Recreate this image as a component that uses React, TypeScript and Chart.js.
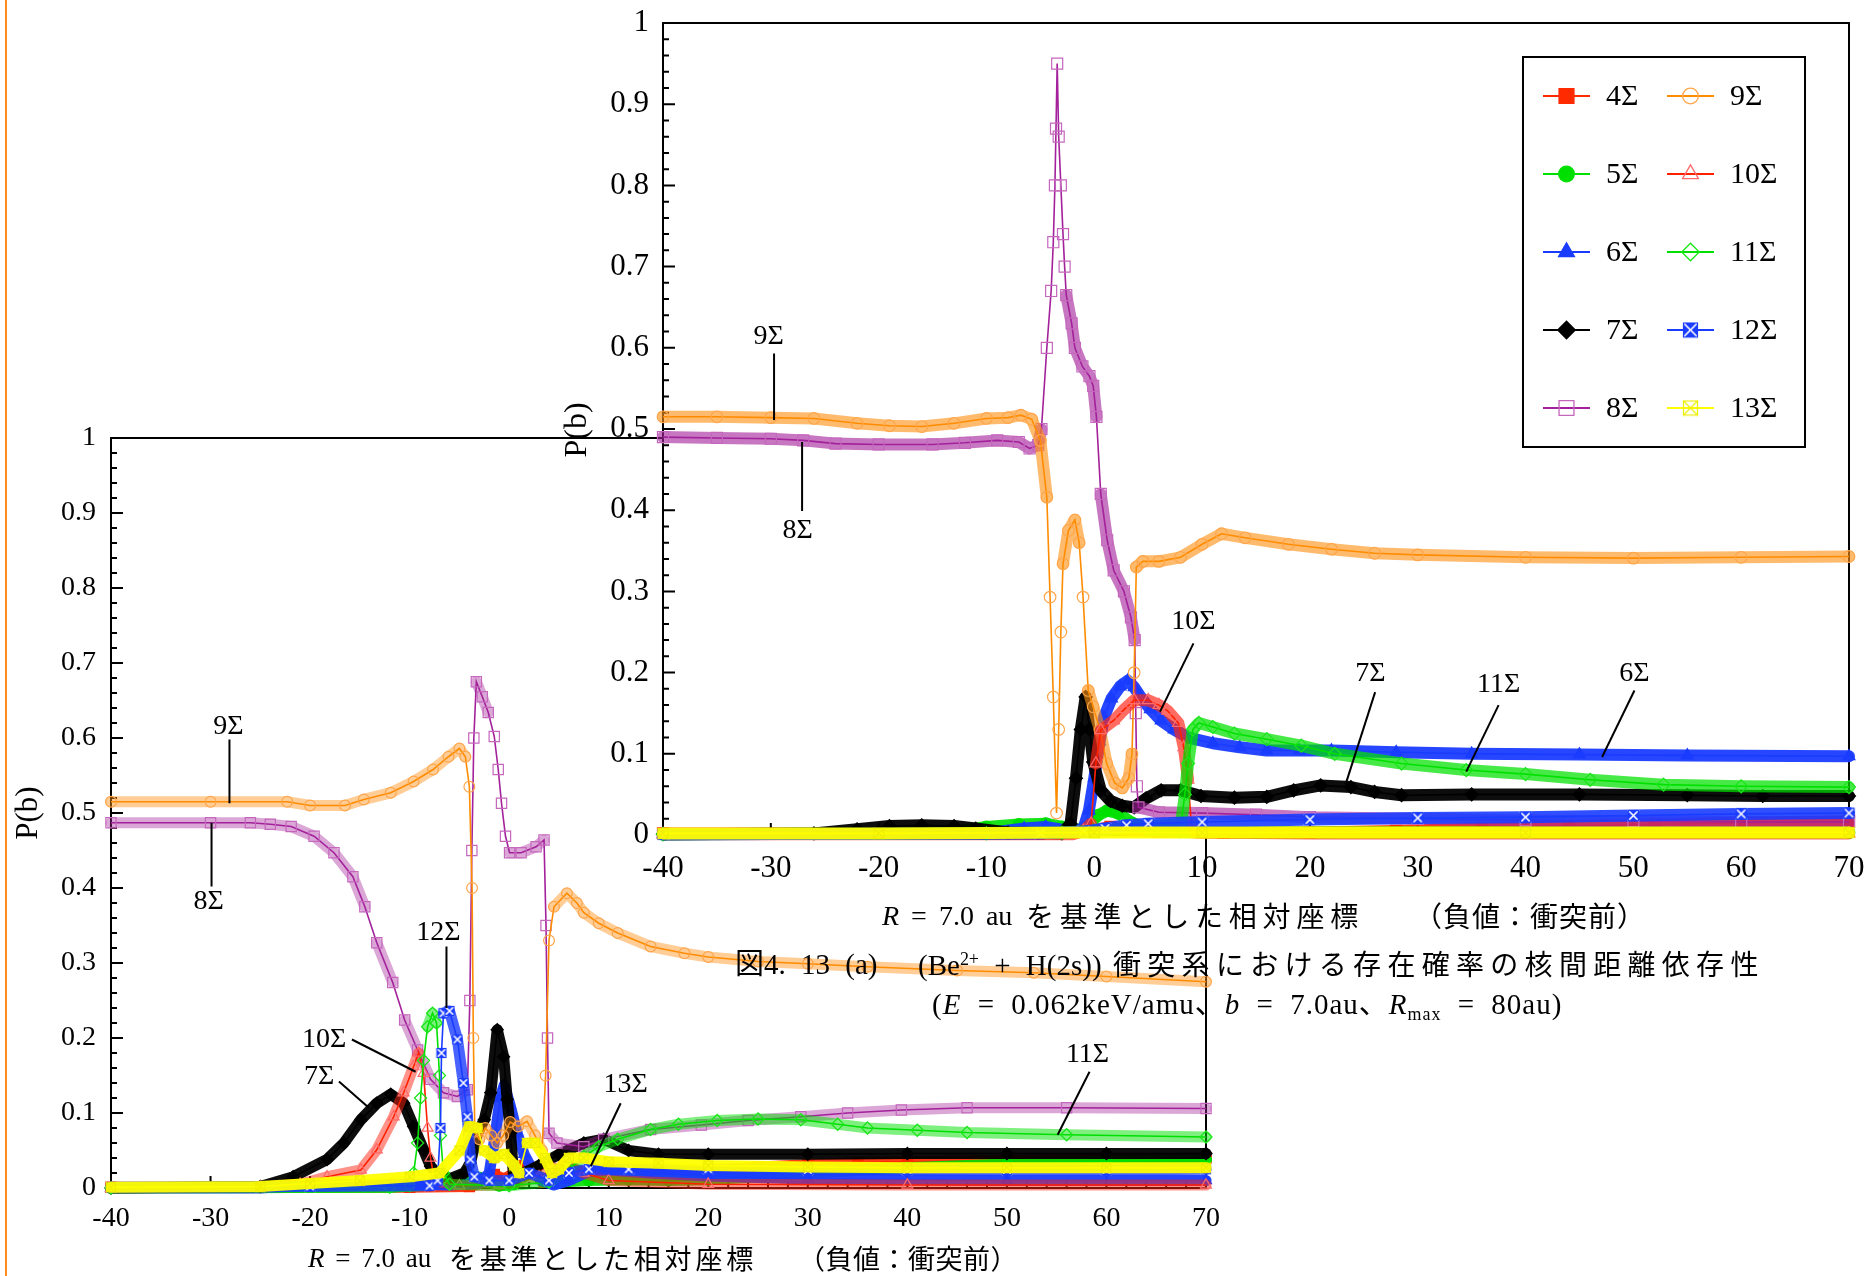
import { useEffect, useRef } from 'react';
import { Chart, registerables } from 'chart.js';
import { drawPoint } from 'chart.js/helpers';

Chart.register(...registerables);

type Pt = [number, number];
type Note = { text: string; tx: number; ty: number; x1: number; y1: number; x2: number; y2: number };

const SERIES = ['4Σ', '5Σ', '6Σ', '7Σ', '8Σ', '9Σ', '10Σ', '11Σ', '12Σ', '13Σ'];
const R_TICKS = [-40, -30, -20, -10, 0, 10, 20, 30, 40, 50, 60, 70];
const P_TICKS = [0, 0.1, 0.2, 0.3, 0.4, 0.5, 0.6, 0.7, 0.8, 0.9, 1];

// ---------- upper-right panel: P(b) vs relative R ----------
const A4: Pt[] = [[-40, 0.002], [-20, 0.002], [-5, 0.002], [-2, 0.003], [0, 0.006], [1.5, 0.01], [3, 0.007], [6, 0.004], [12, 0.003], [20, 0.003], [28, 0.005], [36, 0.008], [44, 0.011], [52, 0.013], [60, 0.015], [70, 0.017]];
const A5: Pt[] = [[-40, 0.001], [-20, 0.002], [-13, 0.004], [-10, 0.01], [-7, 0.013], [-4.5, 0.014], [-3, 0.01], [-1.5, 0.006], [-0.5, 0.012], [0.3, 0.024], [1.2, 0.03], [2.2, 0.027], [3.5, 0.015], [5, 0.007], [8, 0.004], [15, 0.003], [40, 0.003], [70, 0.003]];
const A6: Pt[] = [[-40, 0.001], [-10, 0.002], [-6.5, 0.008], [-4.5, 0.01], [-2, 0.004], [-1, 0.008], [-0.5, 0.03], [0, 0.07], [0.5, 0.115], [0.9, 0.145], [1.6, 0.168], [2.4, 0.183], [3.1, 0.19], [3.7, 0.182], [4.3, 0.17], [5.2, 0.155], [6.2, 0.141], [7.4, 0.13], [8.7, 0.12], [11, 0.113], [13.5, 0.108], [16, 0.104], [19, 0.104], [22, 0.104], [28, 0.102], [35, 0.1], [45, 0.099], [55, 0.098], [70, 0.097]];
const A7: Pt[] = [[-40, 0.001], [-26, 0.002], [-22, 0.007], [-19, 0.011], [-16, 0.012], [-13, 0.011], [-11, 0.008], [-8, 0.003], [-3, 0.002], [-2.2, 0.014], [-1.7, 0.07], [-1.25, 0.13], [-0.8, 0.17], [-0.45, 0.13], [-0.1, 0.09], [0.6, 0.055], [1.5, 0.042], [2.6, 0.036], [3.7, 0.034], [4.8, 0.045], [6.2, 0.055], [8, 0.055], [9.9, 0.048], [13, 0.046], [16, 0.047], [18.5, 0.055], [21, 0.061], [23.8, 0.059], [26, 0.053], [28.5, 0.049], [35, 0.05], [45, 0.05], [55, 0.049], [62, 0.048], [70, 0.048]];
const A8: Pt[] = [[-40, 0.49], [-35, 0.489], [-30, 0.488], [-27, 0.486], [-24, 0.482], [-20, 0.481], [-15, 0.481], [-12, 0.483], [-9, 0.486], [-7, 0.484], [-6, 0.476], [-5.2, 0.48], [-4.9, 0.5], [-4.4, 0.6], [-4.0, 0.67], [-3.8, 0.73], [-3.65, 0.8], [-3.55, 0.87], [-3.44, 0.95], [-3.3, 0.86], [-3.1, 0.8], [-2.9, 0.74], [-2.75, 0.7], [-2.6, 0.665], [-2.1, 0.63], [-1.8, 0.6], [-1.1, 0.577], [-0.45, 0.565], [-0.1, 0.553], [0.2, 0.515], [0.6, 0.42], [1.2, 0.363], [1.8, 0.326], [2.75, 0.3], [3.4, 0.268], [3.75, 0.24], [3.85, 0.15], [3.95, 0.06], [4.1, 0.034], [6, 0.028], [10, 0.027], [15, 0.025], [20, 0.022], [30, 0.02], [40, 0.018], [50, 0.017], [60, 0.016], [70, 0.016]];
const A9: Pt[] = [[-40, 0.515], [-35, 0.515], [-30, 0.514], [-26, 0.513], [-22, 0.507], [-19, 0.504], [-16, 0.503], [-13, 0.507], [-10, 0.513], [-8, 0.514], [-6.8, 0.517], [-5.8, 0.512], [-5.0, 0.486], [-4.4, 0.416], [-4.1, 0.293], [-3.8, 0.17], [-3.5, 0.027], [-3.3, 0.13], [-3.1, 0.25], [-2.9, 0.334], [-2.4, 0.375], [-1.8, 0.388], [-1.4, 0.36], [-1.04, 0.293], [-0.56, 0.178], [-0.1, 0.158], [0.53, 0.129], [1.15, 0.088], [1.9, 0.064], [2.6, 0.058], [3.2, 0.07], [3.5, 0.1], [3.7, 0.2], [3.9, 0.33], [4.5, 0.337], [6, 0.337], [8, 0.342], [10, 0.358], [11.8, 0.371], [14, 0.366], [18, 0.358], [22, 0.352], [26, 0.347], [30, 0.345], [40, 0.342], [50, 0.341], [60, 0.342], [70, 0.343]];
const A10: Pt[] = [[-40, 0.001], [-2, 0.001], [-1, 0.005], [-0.3, 0.014], [0.15, 0.088], [0.6, 0.129], [1.8, 0.141], [2.8, 0.155], [3.7, 0.166], [5.0, 0.166], [6.0, 0.16], [6.8, 0.153], [7.8, 0.138], [8.3, 0.108], [8.7, 0.068], [9.0, 0.014], [9.5, 0.003], [20, 0.002], [70, 0.002]];
const A11: Pt[] = [[-40, 0.001], [-10, 0.002], [-3, 0.003], [0, 0.005], [4, 0.01], [7, 0.012], [8.05, 0.014], [8.4, 0.05], [8.7, 0.088], [9.15, 0.13], [9.7, 0.138], [11, 0.133], [13, 0.125], [16, 0.118], [19.2, 0.11], [22.3, 0.1], [28.5, 0.088], [34.5, 0.08], [40, 0.075], [46, 0.068], [52.8, 0.062], [60, 0.06], [70, 0.059]];
const A12: Pt[] = [[-40, 0.001], [-5, 0.002], [-1, 0.004], [1, 0.008], [3, 0.012], [5, 0.014], [10, 0.016], [20, 0.019], [30, 0.021], [40, 0.022], [50, 0.024], [60, 0.026], [70, 0.027]];
const A13: Pt[] = [[-40, 0.002], [-20, 0.002], [0, 0.003], [10, 0.003], [40, 0.003], [70, 0.003]];

const A_NOTES: Note[] = [
  { text: '9Σ', tx: -30.2, ty: 0.614, x1: -29.7, y1: 0.593, x2: -29.7, y2: 0.511 },
  { text: '8Σ', tx: -27.5, ty: 0.375, x1: -27.1, y1: 0.484, x2: -27.1, y2: 0.399 },
  { text: '10Σ', tx: 9.2, ty: 0.263, x1: 9.2, y1: 0.236, x2: 6.1, y2: 0.152 },
  { text: '7Σ', tx: 25.6, ty: 0.199, x1: 26.05, y1: 0.176, x2: 23.3, y2: 0.062 },
  { text: '11Σ', tx: 37.5, ty: 0.185, x1: 37.5, y1: 0.16, x2: 34.5, y2: 0.078 },
  { text: '6Σ', tx: 50.1, ty: 0.199, x1: 50.1, y1: 0.178, x2: 47.1, y2: 0.096 },
];

// ---------- lower-left panel ----------
const B4: Pt[] = [[-40, 0.001], [-10, 0.001], [-4, 0.002], [-2.5, 0.008], [-1.5, 0.018], [-0.5, 0.012], [0.5, 0.02], [1.5, 0.03], [2.5, 0.02], [3.5, 0.008], [4.5, 0.02], [5.5, 0.03], [7, 0.022], [10, 0.02], [15, 0.02], [20, 0.023], [25, 0.028], [30, 0.031], [35, 0.034], [40, 0.035], [50, 0.037], [60, 0.038], [70, 0.04]];
const B5: Pt[] = [[-40, 0], [-12, 0.001], [-8, 0.004], [-6, 0.012], [-4.5, 0.016], [-3, 0.014], [-2, 0.008], [-1, 0.003], [0.5, 0.005], [1.5, 0.016], [2.5, 0.022], [3.5, 0.01], [5, 0.008], [8, 0.01], [12, 0.011], [16, 0.01], [20, 0.011], [25, 0.015], [30, 0.02], [40, 0.027], [50, 0.032], [60, 0.036], [70, 0.038]];
const B6: Pt[] = [[-40, 0], [-25, 0], [-20, 0.004], [-12, 0.005], [-6, 0.004], [-3, 0.006], [-2, 0.02], [-1.4, 0.07], [-0.9, 0.12], [-0.5, 0.137], [0.1, 0.11], [0.8, 0.073], [1.5, 0.045], [2.3, 0.025], [3.2, 0.01], [4.5, 0.004], [6, 0.01], [8, 0.022], [10, 0.024], [14, 0.02], [20, 0.016], [30, 0.012], [50, 0.01], [70, 0.01]];
const B7: Pt[] = [[-40, 0], [-25, 0.002], [-21.7, 0.015], [-18.3, 0.038], [-16.6, 0.06], [-14.9, 0.091], [-13.3, 0.113], [-11.9, 0.125], [-10.6, 0.113], [-9.6, 0.082], [-8.6, 0.051], [-7.9, 0.029], [-7.3, 0.02], [-6, 0.012], [-4.5, 0.02], [-3.9, 0.033], [-3.2, 0.073], [-2.5, 0.091], [-1.85, 0.127], [-1.2, 0.211], [-0.56, 0.175], [-0.2, 0.118], [0.14, 0.073], [0.47, 0.01], [1.5, 0.02], [3, 0.03], [5, 0.045], [7.5, 0.06], [9.5, 0.065], [12, 0.05], [15, 0.045], [20, 0.045], [30, 0.045], [40, 0.046], [50, 0.046], [60, 0.046], [70, 0.046]];
const B8: Pt[] = [[-40, 0.487], [-30, 0.487], [-26, 0.487], [-24, 0.485], [-21.9, 0.482], [-19.6, 0.469], [-17.6, 0.447], [-15.7, 0.415], [-14.5, 0.375], [-13.3, 0.327], [-11.7, 0.274], [-10.5, 0.224], [-9.2, 0.184], [-7.9, 0.145], [-6.6, 0.127], [-5.2, 0.122], [-4.2, 0.131], [-3.95, 0.25], [-3.75, 0.45], [-3.55, 0.6], [-3.3, 0.675], [-2.7, 0.655], [-2.1, 0.634], [-1.5, 0.602], [-1.1, 0.558], [-0.77, 0.513], [-0.37, 0.469], [0.04, 0.447], [1.2, 0.447], [2.7, 0.455], [3.5, 0.464], [3.7, 0.35], [3.85, 0.2], [4.0, 0.073], [4.8, 0.06], [7.5, 0.055], [9.5, 0.065], [14.2, 0.078], [19.3, 0.084], [24, 0.09], [29.3, 0.095], [34, 0.1], [39.4, 0.104], [46, 0.107], [56, 0.107], [70, 0.106]];
const B9: Pt[] = [[-40, 0.515], [-30, 0.515], [-22.3, 0.515], [-20, 0.51], [-16.5, 0.51], [-14.6, 0.518], [-11.9, 0.527], [-9.6, 0.542], [-7.65, 0.558], [-6.1, 0.575], [-5.0, 0.586], [-4.4, 0.575], [-4.0, 0.535], [-3.73, 0.4], [-3.6, 0.2], [-3.45, 0.075], [-3.0, 0.065], [-2.4, 0.08], [-1.8, 0.07], [-1.2, 0.06], [-0.6, 0.07], [0.1, 0.088], [0.9, 0.082], [1.8, 0.089], [2.6, 0.07], [3.3, 0.05], [3.66, 0.15], [4.0, 0.33], [4.5, 0.375], [5.8, 0.393], [6.8, 0.38], [7.5, 0.367], [9, 0.353], [10.9, 0.34], [14.2, 0.322], [17.6, 0.313], [20, 0.308], [25, 0.302], [30, 0.299], [36, 0.295], [45, 0.29], [52.7, 0.287], [60, 0.282], [70, 0.275]];
const B10: Pt[] = [[-40, 0], [-25, 0.001], [-21, 0.005], [-18.3, 0.015], [-14.9, 0.024], [-13.3, 0.051], [-11.6, 0.095], [-10.6, 0.127], [-9.6, 0.162], [-9.1, 0.18], [-8.6, 0.153], [-8.2, 0.08], [-7.9, 0.04], [-7.5, 0.01], [-5, 0.003], [-1, 0.004], [1, 0.008], [3, 0.015], [4.5, 0.025], [6, 0.03], [7.5, 0.02], [10, 0.01], [20, 0.005], [40, 0.004], [70, 0.004]];
const B11: Pt[] = [[-40, 0], [-12, 0.001], [-10, 0.003], [-9.6, 0.02], [-9.2, 0.06], [-8.9, 0.12], [-8.6, 0.17], [-8.2, 0.215], [-7.7, 0.233], [-7.3, 0.22], [-7.0, 0.15], [-6.9, 0.07], [-6.6, 0.02], [-6, 0.005], [0, 0.003], [4, 0.008], [6, 0.025], [7.5, 0.042], [9, 0.055], [10.9, 0.065], [14.2, 0.078], [17, 0.085], [20.9, 0.09], [25, 0.092], [29.3, 0.091], [33, 0.085], [36, 0.08], [41, 0.077], [46, 0.074], [56, 0.071], [70, 0.068]];
const B12: Pt[] = [[-40, 0.001], [-20, 0.002], [-8, 0.003], [-7.2, 0.01], [-6.9, 0.08], [-6.8, 0.18], [-6.6, 0.233], [-6.0, 0.236], [-5.2, 0.198], [-4.6, 0.14], [-4.2, 0.095], [-3.9, 0.038], [-3.5, 0.015], [-2, 0.01], [0, 0.01], [2, 0.02], [4, 0.01], [6, 0.02], [8, 0.025], [12, 0.025], [20, 0.025], [30, 0.024], [40, 0.024], [50, 0.024], [60, 0.024], [70, 0.025]];
const B13: Pt[] = [[-40, 0.001], [-25, 0.002], [-20, 0.006], [-15, 0.01], [-10, 0.015], [-7, 0.02], [-5, 0.05], [-4, 0.082], [-3.2, 0.08], [-2.5, 0.05], [-1.5, 0.04], [-0.5, 0.045], [0.5, 0.03], [1, 0.02], [1.8, 0.06], [2.6, 0.06], [3.6, 0.04], [4.3, 0.02], [5, 0.025], [6, 0.04], [7.5, 0.04], [10, 0.035], [15, 0.033], [20, 0.03], [30, 0.028], [40, 0.027], [50, 0.027], [60, 0.027], [70, 0.027]];

const B_NOTES: Note[] = [
  { text: '9Σ', tx: -28.2, ty: 0.615, x1: -28.1, y1: 0.598, x2: -28.1, y2: 0.513 },
  { text: '8Σ', tx: -30.2, ty: 0.382, x1: -29.9, y1: 0.487, x2: -29.9, y2: 0.402 },
  { text: '12Σ', tx: -7.1, ty: 0.341, x1: -6.3, y1: 0.322, x2: -6.3, y2: 0.24 },
  { text: '10Σ', tx: -18.6, ty: 0.198, x1: -15.8, y1: 0.198, x2: -9.4, y2: 0.155 },
  { text: '7Σ', tx: -19.1, ty: 0.149, x1: -17.1, y1: 0.142, x2: -14.1, y2: 0.107 },
  { text: '13Σ', tx: 11.7, ty: 0.138, x1: 11.2, y1: 0.113, x2: 8.2, y2: 0.029 },
  { text: '11Σ', tx: 58.1, ty: 0.178, x1: 58.3, y1: 0.155, x2: 55.1, y2: 0.071 },
];

// ---------- series appearance ----------
const LINE = ['#ff2a00', '#00e000', '#1a3cff', '#000000', '#a3219b', '#ff8c00', '#ff2000', '#00e000', '#1a3cff', '#ffff00'];
const EDGE = ['#ff2a00', '#00e000', '#1a3cff', '#000000', '#c567bd', '#ffa54a', '#ff6a6a', '#19e619', '#1a3cff', '#eeee00'];
const SHAPE = ['rect', 'circle', 'triangle', 'rectRot', 'rect', 'circle', 'triangle', 'rectRot', 'xbox', 'xbox'];
const SOLID = [true, true, true, true, false, false, false, false, true, false];
const BAND_RGB = ['255,42,0', '0,224,0', '26,60,255', '0,0,0', '165,35,155', '255,145,20', '255,40,20', '0,225,0', '26,60,255', '255,255,0'];
const BAND_ALPHA_UPPER = [0.9, 0.9, 0.95, 0.95, 0.62, 0.62, 0.68, 0.72, 0.9, 0.95];
const BAND_ALPHA_LOWER = [0.9, 0.9, 0.95, 0.95, 0.4, 0.45, 0.5, 0.5, 0.8, 0.95];

const SERIF = '"Liberation Serif", "Times New Roman", serif';
const JP = '"Noto Sans CJK JP", "Noto Sans CJK SC", sans-serif';

function radiusFor(shape: string, k: number) {
  switch (shape) {
    case 'rect': return 7.8 * k;
    case 'circle': return 5.8 * k;
    case 'triangle': return 6.8 * k;
    case 'rectRot': return 6.5 * k;
    default: return 6 * k;
  }
}

function xBox(size: number, fill: string | null, edge: string, cross: string, crossWidth: number) {
  const s = Math.round(size) + 2;
  const c = document.createElement('canvas');
  c.width = s;
  c.height = s;
  const g = c.getContext('2d')!;
  const a = 1, b = s - 1;
  if (fill) { g.fillStyle = fill; g.fillRect(a, a, b - a, b - a); }
  g.strokeStyle = cross;
  g.lineWidth = crossWidth;
  g.beginPath();
  g.moveTo(a, a); g.lineTo(b, b);
  g.moveTo(b, a); g.lineTo(a, b);
  g.stroke();
  g.strokeStyle = edge;
  g.lineWidth = 1.2;
  g.strokeRect(a + 0.5, a + 0.5, b - a - 1, b - a - 1);
  return c;
}

function makeMarks(size: number) {
  const m: (HTMLCanvasElement | null)[] = SERIES.map(() => null);
  m[8] = xBox(size, '#1a3cff', '#1a3cff', '#ffffff', 1.6);
  m[9] = xBox(size, null, '#eeee00', '#eeee00', 1.2);
  return m;
}

// dense overlapping markers read as a thick band wherever the curve is shallow
const bandPlugin = {
  id: 'markerBand',
  beforeDatasetDraw(chart: any, args: any) {
    const ds = chart.data.datasets[args.index];
    const band = ds.band;
    if (!band) return;
    const pts = args.meta.data;
    const ctx = chart.ctx;
    ctx.save();
    ctx.strokeStyle = band.color;
    ctx.lineWidth = band.width;
    ctx.lineCap = 'round';
    ctx.lineJoin = 'round';
    ctx.beginPath();
    let pen = false;
    for (let i = 1; i < pts.length; i++) {
      const a = pts[i - 1], b = pts[i];
      const dx = Math.abs(b.x - a.x), dy = Math.abs(b.y - a.y);
      if (dy <= dx * band.steep) {
        if (!pen) ctx.moveTo(a.x, a.y);
        ctx.lineTo(b.x, b.y);
        pen = true;
      } else {
        pen = false;
      }
    }
    ctx.stroke();
    ctx.restore();
  },
};

function framePlugin(fillWhite: boolean) {
  return {
    id: 'frame',
    beforeDraw(chart: any) {
      if (!fillWhite) return;
      const { ctx, chartArea: a } = chart;
      ctx.save();
      ctx.fillStyle = '#ffffff';
      ctx.fillRect(a.left, a.top, a.right - a.left, a.bottom - a.top);
      ctx.restore();
    },
    beforeDatasetsDraw(chart: any) {
      const { ctx, chartArea: a, scales } = chart;
      const x = scales.x, y = scales.y;
      ctx.save();
      ctx.strokeStyle = '#000';
      ctx.lineWidth = 2;
      ctx.strokeRect(a.left, a.top, a.right - a.left, a.bottom - a.top);
      ctx.beginPath();
      for (let k = 0; k <= 50; k++) {
        const py = y.getPixelForValue(y.min + k * 0.02);
        const len = k % 5 === 0 ? 12 : 6;
        ctx.moveTo(a.left, py);
        ctx.lineTo(a.left + len, py);
      }
      for (let v = x.min; v <= x.max + 1e-9; v += 2) {
        const px = x.getPixelForValue(v);
        const len = Math.round(v) % 10 === 0 ? 12 : 6;
        ctx.moveTo(px, a.bottom);
        ctx.lineTo(px, a.bottom - len);
      }
      ctx.stroke();
      ctx.restore();
    },
  };
}

function notesPlugin(notes: Note[], size: number) {
  return {
    id: 'notes',
    afterDatasetsDraw(chart: any) {
      const { ctx, scales } = chart;
      const x = scales.x, y = scales.y;
      ctx.save();
      ctx.strokeStyle = '#000';
      ctx.lineWidth = 2;
      ctx.fillStyle = '#000';
      ctx.font = `${size}px ${SERIF}`;
      ctx.textAlign = 'center';
      ctx.textBaseline = 'middle';
      for (const n of notes) {
        ctx.beginPath();
        ctx.moveTo(x.getPixelForValue(n.x1), y.getPixelForValue(n.y1));
        ctx.lineTo(x.getPixelForValue(n.x2), y.getPixelForValue(n.y2));
        ctx.stroke();
        ctx.fillText(n.text, x.getPixelForValue(n.tx), y.getPixelForValue(n.ty));
      }
      ctx.restore();
    },
  };
}

const LG = { x: 983, y: 57, w: 282, h: 390, row0: 96, rowStep: 78, col: [1003, 1127] };

function legendPlugin(marks: (HTMLCanvasElement | null)[]) {
  return {
    id: 'boxLegend',
    afterDraw(chart: any) {
      const ctx = chart.ctx;
      ctx.save();
      ctx.fillStyle = '#fff';
      ctx.fillRect(LG.x, LG.y, LG.w, LG.h);
      ctx.strokeStyle = '#000';
      ctx.lineWidth = 2;
      ctx.strokeRect(LG.x, LG.y, LG.w, LG.h);
      ctx.font = `30px ${SERIF}`;
      ctx.textBaseline = 'middle';
      ctx.textAlign = 'left';
      SERIES.forEach((name, i) => {
        const col = Math.floor(i / 5), row = i % 5;
        const cy = LG.row0 + row * LG.rowStep;
        const x0 = LG.col[col];
        ctx.strokeStyle = LINE[i];
        ctx.lineWidth = 2;
        ctx.beginPath();
        ctx.moveTo(x0, cy);
        ctx.lineTo(x0 + 47, cy);
        ctx.stroke();
        ctx.fillStyle = SOLID[i] ? EDGE[i] : 'rgba(0,0,0,0)';
        ctx.strokeStyle = EDGE[i];
        ctx.lineWidth = 1.3;
        drawPoint(ctx, {
          pointStyle: (SHAPE[i] === 'xbox' ? marks[i] : SHAPE[i]) as any,
          radius: radiusFor(SHAPE[i], 1.35),
          borderWidth: 1.3,
          rotation: 0,
        }, x0 + 23.5, cy);
        ctx.fillStyle = '#000';
        ctx.fillText(name, x0 + 63, cy + 1);
      });
      ctx.restore();
    },
  };
}

type Panel = {
  series: Pt[][];
  notes: Note[];
  k: number;
  alpha: number[];
  steepHollow: number;
  steepSolid: number;
  font: number;
  noteFont: number;
  padding: { left: number; top: number; right: number; bottom: number };
  yWidth: number;
  xHeight: number;
  xPad: number;
  yPad: number;
  fillWhite: boolean;
  legend: boolean;
};

function makeConfig(p: Panel): any {
  const marks = makeMarks(11 * p.k);
  const datasets = p.series.map((pts, i) => ({
    label: SERIES[i],
    data: pts.map(([x, y]) => ({ x, y })),
    showLine: true,
    tension: 0,
    borderColor: LINE[i],
    borderWidth: 1.6,
    pointStyle: SHAPE[i] === 'xbox' ? marks[i] : SHAPE[i],
    pointRadius: radiusFor(SHAPE[i], p.k),
    pointBorderColor: EDGE[i],
    pointBackgroundColor: SOLID[i] ? EDGE[i] : 'rgba(0,0,0,0)',
    pointBorderWidth: 1.2,
    order: p.series.length - i,
    clip: false,
    band: {
      color: `rgba(${BAND_RGB[i]},${p.alpha[i]})`,
      width: 12 * p.k,
      steep: SOLID[i] ? p.steepSolid : p.steepHollow,
    },
  }));
  const plugins: any[] = [bandPlugin, framePlugin(p.fillWhite), notesPlugin(p.notes, p.noteFont)];
  if (p.legend) plugins.push(legendPlugin(makeMarks(15)));
  return {
    type: 'scatter',
    data: { datasets },
    options: {
      responsive: false,
      maintainAspectRatio: false,
      animation: false,
      devicePixelRatio: 1,
      events: [],
      layout: { padding: p.padding },
      plugins: { legend: { display: false }, tooltip: { enabled: false } },
      scales: {
        x: {
          type: 'linear',
          min: R_TICKS[0],
          max: R_TICKS[R_TICKS.length - 1],
          afterBuildTicks: (s: any) => { s.ticks = R_TICKS.map((value) => ({ value })); },
          afterFit: (s: any) => { s.height = p.xHeight; s.paddingLeft = 0; s.paddingRight = 0; },
          grid: { display: false, drawTicks: false },
          border: { display: false },
          ticks: {
            font: { family: SERIF, size: p.font },
            color: '#000',
            padding: p.xPad,
            maxRotation: 0,
            autoSkip: false,
            callback: (v: any) => String(v),
          },
        },
        y: {
          type: 'linear',
          min: P_TICKS[0],
          max: P_TICKS[P_TICKS.length - 1],
          afterBuildTicks: (s: any) => { s.ticks = P_TICKS.map((value) => ({ value })); },
          afterFit: (s: any) => { s.width = p.yWidth; s.paddingTop = 0; s.paddingBottom = 0; },
          grid: { display: false, drawTicks: false },
          border: { display: false },
          ticks: {
            font: { family: SERIF, size: p.font },
            color: '#000',
            padding: p.yPad,
            autoSkip: false,
            callback: (v: any) => String(Math.round(Number(v) * 10) / 10),
          },
        },
      },
    },
    plugins,
  };
}

const CANVAS_A = { left: 540, top: 0, width: 1327, height: 900 };
const CANVAS_B = { left: 0, top: 400, width: 1240, height: 876 };

function Txt(props: { x: number; y: number; size: number; h?: number; align?: 'left' | 'center' | 'right'; family?: string; style?: any; children: any }) {
  const h = props.h ?? Math.round(props.size * 1.3);
  const tx = props.align === 'center' ? '-50%' : props.align === 'right' ? '-100%' : '0';
  return (
    <div
      style={{
        position: 'absolute',
        left: props.x,
        top: props.y - h / 2,
        height: h,
        lineHeight: `${h}px`,
        transform: `translateX(${tx})`,
        whiteSpace: 'nowrap',
        fontSize: props.size,
        fontFamily: props.family ?? SERIF,
        color: '#000',
        ...props.style,
      }}
    >
      {props.children}
    </div>
  );
}

function YTitle(props: { x: number; y: number; size: number }) {
  return (
    <div
      style={{
        position: 'absolute',
        left: props.x,
        top: props.y,
        transform: 'translate(-50%, -50%) rotate(-90deg)',
        fontFamily: SERIF,
        fontSize: props.size,
        lineHeight: 1,
        whiteSpace: 'nowrap',
        color: '#000',
      }}
    >
      P(b)
    </div>
  );
}

const SUP = { fontSize: '0.62em', position: 'relative' as const, top: '-0.55em' };
const SUB = { fontSize: '0.62em', position: 'relative' as const, top: '0.35em' };

export default function App() {
  const refA = useRef<HTMLCanvasElement>(null);
  const refB = useRef<HTMLCanvasElement>(null);

  useEffect(() => {
    Chart.defaults.font.family = SERIF;
    Chart.defaults.color = '#000';
    const chartB = new Chart(refB.current!, makeConfig({
      series: [B4, B5, B6, B7, B8, B9, B10, B11, B12, B13],
      notes: B_NOTES,
      k: 0.93,
      alpha: BAND_ALPHA_LOWER,
      steepHollow: 3,
      steepSolid: 15,
      font: 28,
      noteFont: 28,
      padding: { left: 0, top: 38, right: 34, bottom: 38 },
      yWidth: 111,
      xHeight: 50,
      xPad: 14,
      yPad: 15,
      fillWhite: false,
      legend: false,
    }));
    const chartA = new Chart(refA.current!, makeConfig({
      series: [A4, A5, A6, A7, A8, A9, A10, A11, A12, A13],
      notes: A_NOTES,
      k: 1,
      alpha: BAND_ALPHA_UPPER,
      steepHollow: 10,
      steepSolid: 15,
      font: 31,
      noteFont: 28,
      padding: { left: 0, top: 23, right: 18, bottom: 15 },
      yWidth: 123,
      xHeight: 50,
      xPad: 15,
      yPad: 14,
      fillWhite: true,
      legend: true,
    }));
    return () => {
      chartA.destroy();
      chartB.destroy();
    };
  }, []);

  return (
    <div style={{ position: 'absolute', left: 0, top: 0, width: 1867, height: 1276, overflow: 'hidden', background: '#fff' }}>
      <div style={{ position: 'absolute', left: 5, top: 0, width: 2, height: 1276, background: '#ff8c1a' }} />
      <canvas
        ref={refB}
        width={CANVAS_B.width}
        height={CANVAS_B.height}
        style={{ position: 'absolute', left: CANVAS_B.left, top: CANVAS_B.top, width: CANVAS_B.width, height: CANVAS_B.height, zIndex: 1 }}
      />
      <canvas
        ref={refA}
        width={CANVAS_A.width}
        height={CANVAS_A.height}
        style={{ position: 'absolute', left: CANVAS_A.left, top: CANVAS_A.top, width: CANVAS_A.width, height: CANVAS_A.height, zIndex: 2 }}
      />
      <div style={{ position: 'absolute', left: 0, top: 0, width: 1867, height: 1276, zIndex: 3, pointerEvents: 'none' }}>
        <YTitle x={575} y={430} size={32} />
        <YTitle x={26} y={813} size={31} />

        <Txt x={882} y={916} size={28} style={{ wordSpacing: 5 }}><i>R</i> = 7.0 au</Txt>
        <Txt x={1026} y={915} size={28} family={JP} style={{ letterSpacing: 5.8 }}>を基準とした相対座標</Txt>
        <Txt x={1646} y={915} size={28} align="right" family={JP} style={{ letterSpacing: 1 }}>（負値：衝突前）</Txt>

        <Txt x={308} y={1258} size={27} style={{ wordSpacing: 4 }}><i>R</i> = 7.0 au</Txt>
        <Txt x={449} y={1257} size={27} family={JP} style={{ letterSpacing: 3.8 }}>を基準とした相対座標</Txt>
        <Txt x={1018} y={1257} size={27} align="right" family={JP} style={{ letterSpacing: 0.5 }}>（負値：衝突前）</Txt>

        <Txt x={735} y={964} size={29} family={`${SERIF}, ${JP}`} style={{ wordSpacing: 8 }}>図4. 13 (a)</Txt>
        <Txt x={918} y={965} size={29} style={{ wordSpacing: 8 }}>
          (Be<span style={SUP}>2+</span> + H(2s))
        </Txt>
        <Txt x={1113} y={963} size={28} family={JP} style={{ letterSpacing: 6.3 }}>衝突系における存在確率の核間距離依存性</Txt>
        <Txt x={932} y={1004} size={29} family={`${SERIF}, ${JP}`} style={{ wordSpacing: 8, letterSpacing: 1 }}>
          (<i>E</i> = 0.062keV/amu、<i>b</i> = 7.0au、<i>R</i><span style={SUB}>max</span> = 80au)
        </Txt>
      </div>
    </div>
  );
}
